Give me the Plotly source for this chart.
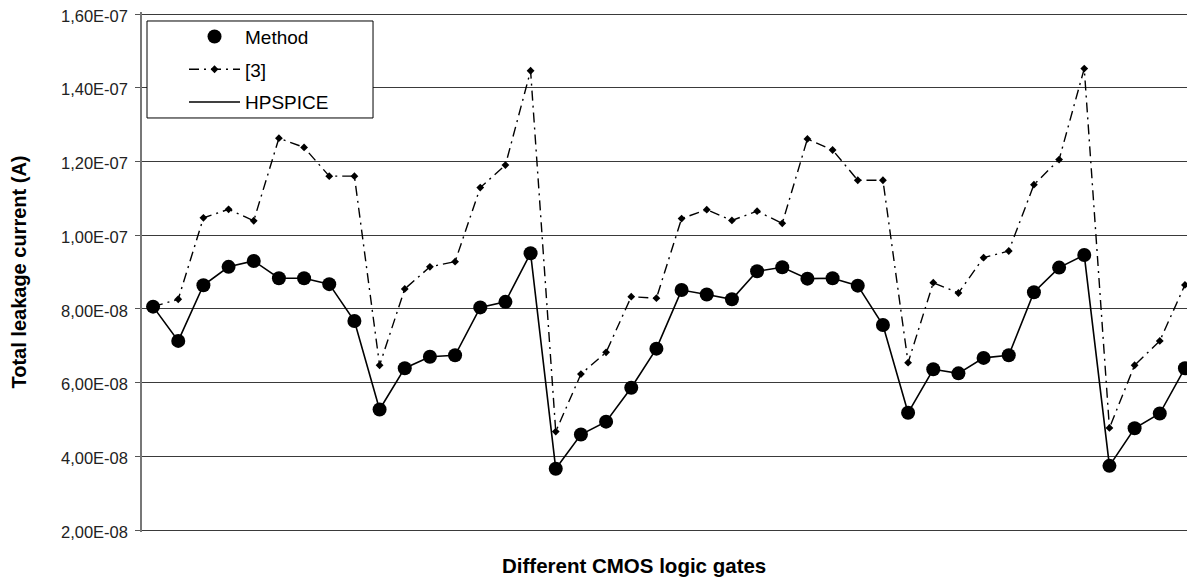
import plotly.graph_objects as go

# gate index (x categories)
gates = list(range(1, 43))

# Total leakage current (A)
method = [8.06, 7.13, 8.64, 9.14, 9.30, 8.83, 8.83, 8.67, 7.67, 5.27,
          6.39, 6.70, 6.74, 8.04, 8.19, 9.51, 3.66, 4.59, 4.94, 5.86,
          6.92, 8.51, 8.39, 8.26, 9.02, 9.13, 8.82, 8.83, 8.63, 7.56,
          5.18, 6.36, 6.25, 6.67, 6.74, 8.45, 9.12, 9.46, 3.74, 4.76,
          5.16, 6.39]
method = [v * 1e-8 for v in method]

ref3 = [8.06, 8.26, 10.47, 10.70, 10.39, 12.63, 12.38, 11.60, 11.60, 6.47,
        8.54, 9.14, 9.28, 11.29, 11.90, 14.46, 4.67, 6.23, 6.82, 8.33,
        8.29, 10.45, 10.69, 10.40, 10.65, 10.32, 12.61, 12.31, 11.49, 11.49,
        6.54, 8.71, 8.43, 9.39, 9.57, 11.37, 12.05, 14.52, 4.77, 6.47,
        7.13, 8.65]
ref3 = [v * 1e-8 for v in ref3]

hpspice = [8.06, 7.13, 8.64, 9.14, 9.30, 8.83, 8.83, 8.67, 7.67, 5.27,
           6.39, 6.70, 6.74, 8.04, 8.19, 9.51, 3.66, 4.59, 4.94, 5.86,
           6.92, 8.51, 8.39, 8.26, 9.02, 9.13, 8.82, 8.83, 8.63, 7.56,
           5.18, 6.36, 6.25, 6.67, 6.74, 8.45, 9.12, 9.46, 3.74, 4.76,
           5.16, 6.39]
hpspice = [v * 1e-8 for v in hpspice]

ytick_vals = [2e-8, 4e-8, 6e-8, 8e-8, 1e-7, 1.2e-7, 1.4e-7, 1.6e-7]
ytick_text = ["2,00E-08", "4,00E-08", "6,00E-08", "8,00E-08",
              "1,00E-07", "1,20E-07", "1,40E-07", "1,60E-07"]

FONT = "Liberation Sans, Arial, sans-serif"

# 2 px of padding above/below the outer gridlines so they are drawn
PAD = 2 * 1.4e-7 / 516

fig = go.Figure()
fig.add_trace(go.Scatter(
    x=gates, y=method, name="Method", mode="markers", legendgroup="a",
    marker=dict(symbol="circle", size=14, color="black"),
))
fig.add_trace(go.Scatter(
    x=gates, y=ref3, name="[3]", mode="lines+markers", legendgroup="b",
    line=dict(color="black", width=1.4, dash="10px,5px,2px,5px"),
    marker=dict(symbol="diamond", size=6, color="black"),
))
fig.add_trace(go.Scatter(
    x=gates, y=hpspice, name="HPSPICE", mode="lines", legendgroup="c",
    line=dict(color="black", width=1.6),
))

fig.update_layout(
    width=1187, height=570,
    margin=dict(l=134, r=0, t=4, b=46, autoexpand=False),
    paper_bgcolor="white", plot_bgcolor="white",
    font=dict(family=FONT, color="#222"),
    showlegend=True,
    legend=dict(
        x=0.0399, y=0.989, xanchor="left", yanchor="top",
        bgcolor="rgba(0,0,0,0)", borderwidth=0,
        font=dict(family=FONT, size=19, color="black"),
        itemwidth=51, traceorder="grouped", tracegroupgap=5,
    ),
    shapes=[dict(
        type="rect", xref="paper", yref="paper", layer="above",
        x0=0.00475, x1=0.2194, y0=0.7962, y1=0.9827,
        fillcolor="white", line=dict(color="black", width=1),
    )],
    xaxis=dict(
        range=[0.56, 42.4], showgrid=False, zeroline=False,
        showticklabels=False, ticks="", showline=False, automargin=False,
    ),
    yaxis=dict(
        range=[2e-8 - PAD, 1.6e-7 + PAD], tickvals=ytick_vals, ticktext=ytick_text,
        showgrid=True, gridcolor="#3a3a3a", gridwidth=1,
        zeroline=False, showline=True, linecolor="#777", linewidth=1.5,
        ticks="outside", ticklen=5, tickcolor="#555", ticklabelstandoff=4,
        ticklabelshift=2, ticklabeloverflow="allow", automargin=False,
        tickfont=dict(family=FONT, size=16.5, color="#222"),
        title=dict(text="<b>Total leakage current (A)</b>",
                   font=dict(family=FONT, size=20, color="black"), standoff=45),
    ),
    annotations=[dict(
        text="<b>Different CMOS logic gates</b>", xref="paper", yref="paper",
        x=0.467, y=-0.064, xanchor="center", yanchor="middle", showarrow=False,
        font=dict(family=FONT, size=20.5, color="black"),
    )],
)

fig.write_html("out.html")
